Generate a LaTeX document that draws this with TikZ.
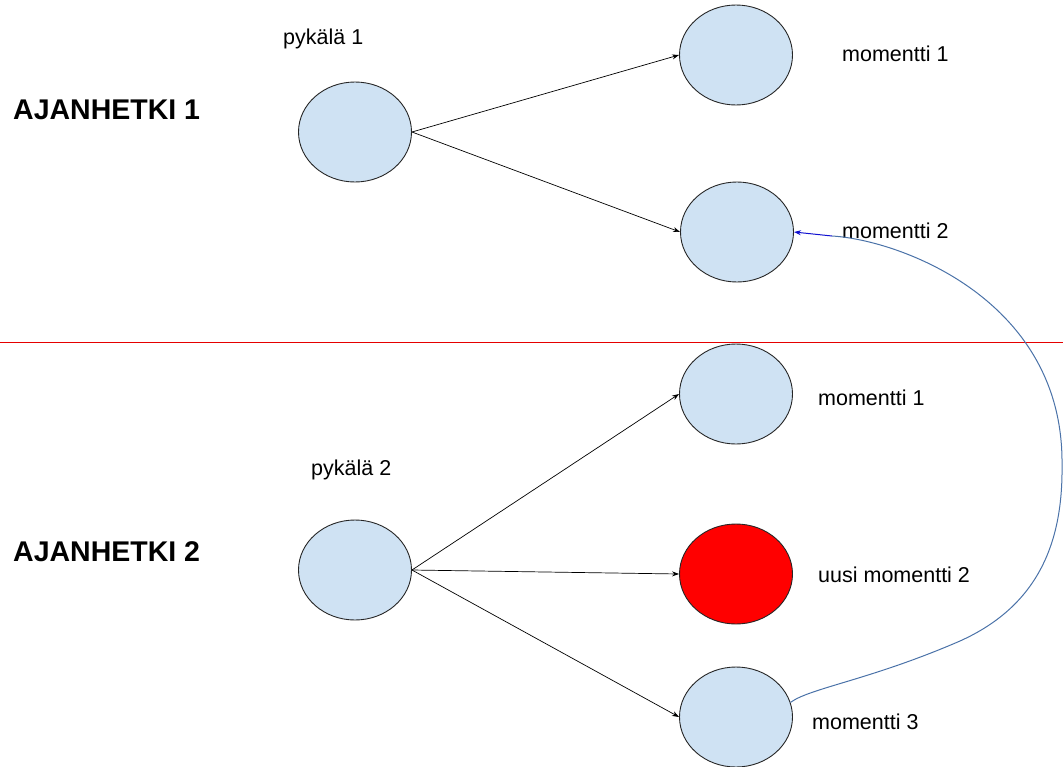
\documentclass[tikz,border=0pt]{standalone}
\usepackage{fontspec}
\setmainfont{Liberation Sans}
\usetikzlibrary{shapes.geometric,arrows.meta}
\definecolor{nodeblue}{HTML}{CFE2F3}
\definecolor{curveblue}{HTML}{4A72A8}
\definecolor{tipblue}{HTML}{1010D0}
\tikzset{
  circ/.style={ellipse,draw=black!85,line width=0.9pt,fill=nodeblue,minimum width=113pt,minimum height=100pt,inner sep=0pt},
  redcirc/.style={circ,fill=red},
  lbl/.style={anchor=base west,inner sep=0pt,font=\fontsize{21.5}{26}\selectfont},
  big/.style={anchor=base west,inner sep=0pt,font=\fontsize{28.5}{34}\selectfont\bfseries},
  conn/.style={line width=0.7pt,-{Stealth[length=7pt,width=5pt]}}
}
\begin{document}
\begin{tikzpicture}[x=1pt,y=-1pt]
\useasboundingbox (0,0) rectangle (1063,766);
% separator
\coordinate (sl) at (0,342);
\coordinate (sr) at (1063,342);
\draw[red!90!black,line width=0.9pt] (sl) -- (sr);
% nodes
\node[circ] (p1) at (355,132) {};
\node[circ] (m1t) at (736,55) {};
\node[circ] (m2t) at (737,232) {};
\node[circ] (p2) at (355,570) {};
\node[circ] (m1b) at (736,394) {};
\node[redcirc] (m2b) at (736,574) {};
\node[circ] (m3) at (736,717) {};
% labels
\node[big] (a1) at (13,119) {AJANHETKI 1};
\node[big] (a2) at (13,561) {AJANHETKI 2};
\node[lbl] (lp1) at (283,44) {pykälä 1};
\node[lbl] (lm1t) at (842,61) {momentti 1};
\node[lbl] (lm2t) at (842,238) {momentti 2};
\node[lbl] (lp2) at (311,475) {pykälä 2};
\node[lbl] (lm1b) at (818,405) {momentti 1};
\node[lbl] (lm2b) at (818,582) {uusi momentti 2};
\node[lbl] (lm3) at (812,729) {momentti 3};
% connectors
\draw[conn] (p1.east) -- (m1t.west);
\draw[conn] (p1.east) -- (m2t.west);
\draw[conn] (p2.east) -- (m1b.west);
\draw[conn] (p2.east) -- (m2b.west);
\draw[conn] (p2.east) -- (m3.west);
% blue curve
\coordinate (cs) at (m3.15);
\coordinate (cm) at (1062,465);
\coordinate (ce) at (832,236);
\draw[curveblue,line width=1pt] (cs) .. controls (810,688) and (870,680) .. (960,641)
   .. controls (1040,605) and (1063,540) .. (cm)
   .. controls (1064,300) and (900,240) .. (ce);
\draw[tipblue,line width=1pt,-{Stealth[length=7pt,width=5pt]}] (ce) -- (m2t.east);
\end{tikzpicture}
\end{document}
